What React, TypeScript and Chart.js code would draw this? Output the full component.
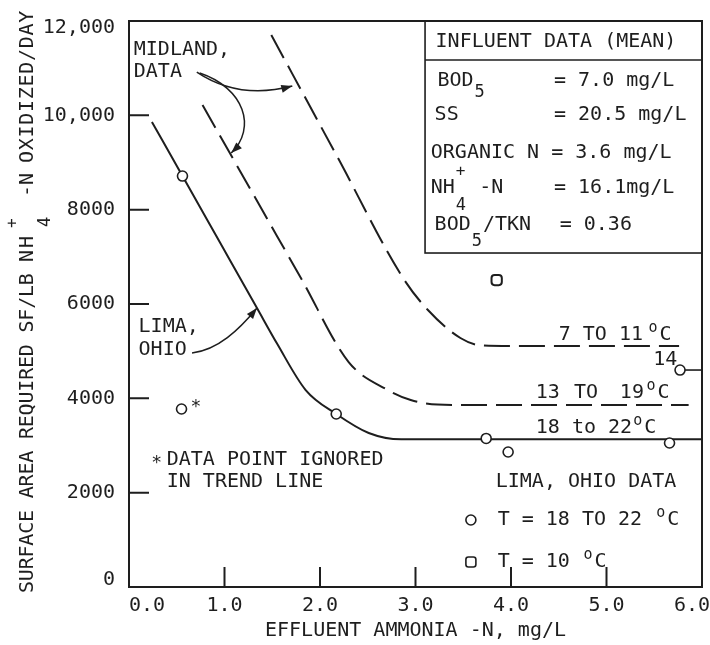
import React, { useEffect, useRef } from 'react';
import { Chart, registerables } from 'chart.js';

Chart.register(...registerables);

const FONT = '"DejaVu Sans Mono", monospace';
const INK = '#1e1e1e';

// Axis ticks
const xTickValues = [0, 1, 2, 3, 4, 5, 6];
const xTickLabels = ['0.0', '1.0', '2.0', '3.0', '4.0', '5.0', '6.0'];
const yTickValues = [0, 2000, 4000, 6000, 8000, 10000, 12000];
const yTickLabels = ['0', '2000', '4000', '6000', '8000', '10,000', '12,000'];

// Lima, Ohio trend line (18 to 22 °C)
const limaTrendX = [0.24, 0.56, 0.95, 1.34, 1.55, 1.85, 2.17, 2.51, 2.85, 6.0];
const limaTrendY = [9861, 8713, 7314, 5915, 5162, 4176, 3668, 3265, 3130, 3130];

// Midland trend line, 13 to 19 °C
const midlandWarmX = [0.77, 1.3, 1.8, 2.3, 2.71, 2.95, 3.23, 3.6, 5.86];
const midlandWarmY = [10218, 8330, 6551, 4770, 4176, 3964, 3870, 3858, 3858];

// Midland trend line, 7 to 11 °C
const midlandColdX = [1.49, 2.18, 2.87, 3.13, 3.47, 3.68, 4.0, 5.76];
const midlandColdY = [11702, 9126, 6551, 5872, 5279, 5125, 5110, 5110];

// Lima, Ohio observations
const limaWarmPtsX = [0.56, 2.17, 3.74, 3.97, 5.66, 5.77, 0.55];
const limaWarmPtsY = [8713, 3668, 3150, 2862, 3053, 4600, 3774];
const limaColdPtsX = [3.85];
const limaColdPtsY = [6508];

// Influent data table
const influentRows = [
  { label: 'BOD', sub: '5', rest: '', value: '= 7.0 mg/L' },
  { label: 'SS', sub: '', rest: '', value: '= 20.5 mg/L' },
  { label: 'ORGANIC N = 3.6 mg/L', sub: '', rest: '', value: '' },
  { label: 'NH', sub: '4', rest: ' -N', value: '= 16.1mg/L' },
  { label: 'BOD', sub: '5', rest: '/TKN', value: '= 0.36' },
];

const pts = (xs: number[], ys: number[]) => xs.map((x, i) => ({ x, y: ys[i] }));

const inkPlugin = {
  id: 'ink',
  beforeDraw(chart: any) {
    const { ctx } = chart;
    ctx.save();
    ctx.fillStyle = '#fff';
    ctx.fillRect(0, 0, chart.width, chart.height);
    ctx.restore();
  },
  afterDraw(chart: any) {
    const { ctx, chartArea: a } = chart;
    const sx = chart.scales.x;
    const sy = chart.scales.y;
    const X = (v: number) => sx.getPixelForValue(v);
    const Y = (v: number) => sy.getPixelForValue(v);
    const spacing = (v: string) => {
      if ('letterSpacing' in ctx) (ctx as any).letterSpacing = v;
    };

    const txt = (s: string, x: number, y: number, size = 20, align: CanvasTextAlign = 'left') => {
      ctx.font = `${size}px ${FONT}`;
      ctx.textAlign = align;
      ctx.textBaseline = 'alphabetic';
      ctx.fillText(s, x, y);
      return x + ctx.measureText(s).width;
    };
    const deg = (x: number, y: number) => {
      txt('o', x, y - 8, 15);
      txt('C', x + 11, y, 20);
    };
    const head = (fx: number, fy: number, tx: number, ty: number) => {
      const ang = Math.atan2(ty - fy, tx - fx);
      const L = 11;
      const W = 4;
      const c = Math.cos(ang);
      const s = Math.sin(ang);
      ctx.beginPath();
      ctx.moveTo(tx, ty);
      ctx.lineTo(tx - L * c + W * s, ty - L * s - W * c);
      ctx.lineTo(tx - L * c - W * s, ty - L * s + W * c);
      ctx.closePath();
      ctx.fill();
    };

    ctx.save();
    ctx.strokeStyle = INK;
    ctx.fillStyle = INK;

    // plot frame
    ctx.lineWidth = 2;
    ctx.strokeRect(a.left, a.top, a.right - a.left, a.bottom - a.top);

    // inward tick marks
    ctx.beginPath();
    yTickValues.forEach((v) => {
      if (v > 0 && v < 12000) {
        ctx.moveTo(a.left, Y(v));
        ctx.lineTo(a.left + 20, Y(v));
      }
    });
    xTickValues.forEach((v) => {
      if (v > 0 && v < 6) {
        ctx.moveTo(X(v), a.bottom);
        ctx.lineTo(X(v), a.bottom - 20);
      }
    });
    ctx.stroke();

    // tick labels
    xTickValues.forEach((v, i) => {
      ctx.font = `20px ${FONT}`;
      const w = ctx.measureText(xTickLabels[i]).width;
      let left = X(v) - w / 2;
      left = Math.max(left, a.left);
      left = Math.min(left, chart.width - w);
      txt(xTickLabels[i], left, a.bottom + 24);
    });
    yTickValues.forEach((v, i) => {
      ctx.font = `20px ${FONT}`;
      ctx.textAlign = 'right';
      ctx.textBaseline = 'middle';
      const y = Math.min(Math.max(Y(v), a.top + 7), a.bottom - 7);
      ctx.fillText(yTickLabels[i], a.left - 14, y);
    });

    // y-axis title with NH4+ notation
    ctx.save();
    ctx.translate(a.left - 96, a.bottom + 6);
    ctx.rotate(-Math.PI / 2);
    spacing('-0.2px');
    txt('SURFACE AREA REQUIRED SF/LB', 0, 0);
    spacing('2px');
    txt('NH', 331, 0);
    spacing('0px');
    txt('4', 366, 17, 17);
    txt('+', 365, -16, 16);
    txt('-N', 396, 0);
    spacing('0.7px');
    txt('OXIDIZED/DAY', 430, 0);
    spacing('0px');
    ctx.restore();

    // influent data box
    ctx.lineWidth = 1.6;
    const bx = X(3.1);
    ctx.strokeRect(bx, a.top, a.right - bx, Y(7081) - a.top);
    ctx.beginPath();
    ctx.moveTo(bx, Y(11172));
    ctx.lineTo(a.right, Y(11172));
    ctx.stroke();
    txt('INFLUENT DATA (MEAN)', X(3.21), Y(11448));
    const rowY = [10621, 9900, 9095, 8353, 7568];
    const rowX = [3.23, 3.2, 3.16, 3.16, 3.2];
    const eqX = [4.45, 4.45, 4.35, 4.45, 4.51];
    const subDrop = [11, 0, 0, 17, 16];
    influentRows.forEach((r, i) => {
      const by = Y(rowY[i]);
      let x = txt(r.label, X(rowX[i]), by);
      if (r.sub) {
        const subEnd = txt(r.sub, x + 1, by + subDrop[i], 17);
        if (r.label === 'NH') txt('+', x + 1, by - 17, 16);
        x = subEnd + 1;
      }
      if (r.rest) txt(r.rest, x, by);
      if (r.value) txt(r.value, X(eqX[i]), by);
    });

    // curve labels
    txt('MIDLAND,', X(0.05), Y(11278));
    txt('DATA', X(0.05), Y(10812));
    txt('LIMA,', X(0.1), Y(5406));
    txt('OHIO', X(0.1), Y(4918));

    txt('7 TO 11', X(4.5), Y(5236));
    deg(X(5.44), Y(5236));
    txt('14', X(5.49), Y(4706));
    txt('13', X(4.26), Y(4007));
    txt('TO', X(4.66), Y(4007));
    txt('19', X(5.14), Y(4007));
    deg(X(5.42), Y(4007));
    txt('18 to 22', X(4.26), Y(3265));
    deg(X(5.28), Y(3265));

    // note on the ignored point
    txt('*', X(0.7), Y(3774) + 3, 18, 'center');
    txt('*', X(0.29), Y(2586) + 3, 18, 'center');
    txt('DATA POINT IGNORED', X(0.395), Y(2586));
    txt('IN TREND LINE', X(0.395), Y(2120));

    // Lima data key
    txt('LIMA, OHIO DATA', X(3.84), Y(2120));
    txt('T = 18 TO 22', X(3.86), Y(1314));
    deg(X(5.52), Y(1314));
    txt('T = 10', X(3.86), Y(424));
    deg(X(4.76), Y(424));
    ctx.lineWidth = 1.6;
    ctx.fillStyle = '#fff';
    ctx.beginPath();
    ctx.arc(X(3.58), Y(1420), 5, 0, Math.PI * 2);
    ctx.fill();
    ctx.stroke();
    ctx.beginPath();
    ctx.roundRect(X(3.58) - 5, Y(530) - 5, 10, 10, 2.5);
    ctx.fill();
    ctx.stroke();
    ctx.fillStyle = INK;

    // leader from the 14 °C point to the axis
    ctx.beginPath();
    ctx.moveTo(X(5.77) + 5, Y(4600));
    ctx.lineTo(a.right, Y(4600));
    ctx.stroke();

    // pointer arrows
    ctx.lineWidth = 1.5;
    let s0 = [X(0.71), Y(10918)];
    let c0 = [X(1.15), Y(10324)];
    let e0 = [X(1.71), Y(10621)];
    ctx.beginPath();
    ctx.moveTo(s0[0], s0[1]);
    ctx.quadraticCurveTo(c0[0], c0[1], e0[0], e0[1]);
    ctx.stroke();
    head(c0[0], c0[1], e0[0], e0[1]);

    s0 = [X(0.74), Y(10897)];
    c0 = [X(1.21), Y(10579)];
    let c1 = [X(1.34), Y(9731)];
    e0 = [X(1.07), Y(9201)];
    ctx.beginPath();
    ctx.moveTo(s0[0], s0[1]);
    ctx.bezierCurveTo(c0[0], c0[1], c1[0], c1[1], e0[0], e0[1]);
    ctx.stroke();
    head(c1[0], c1[1], e0[0], e0[1]);

    s0 = [X(0.66), Y(4961)];
    c0 = [X(0.93), Y(5024)];
    c1 = [X(1.15), Y(5448)];
    e0 = [X(1.34), Y(5915)];
    ctx.beginPath();
    ctx.moveTo(s0[0], s0[1]);
    ctx.bezierCurveTo(c0[0], c0[1], c1[0], c1[1], e0[0], e0[1]);
    ctx.stroke();
    head(c1[0], c1[1], e0[0], e0[1]);

    ctx.restore();
  },
};

export default function App() {
  const ref = useRef<HTMLCanvasElement>(null);

  useEffect(() => {
    const canvas = ref.current;
    if (!canvas) return;
    Chart.defaults.font.family = FONT;
    const lineStyle = {
      type: 'line' as const,
      borderColor: INK,
      borderWidth: 2,
      pointRadius: 0,
      fill: false,
      cubicInterpolationMode: 'monotone' as const,
      order: 2,
    };
    const chart = new Chart(canvas, {
      type: 'line',
      data: {
        datasets: [
          { ...lineStyle, label: 'Lima, Ohio', data: pts(limaTrendX, limaTrendY) },
          { ...lineStyle, label: '13 to 19 °C', data: pts(midlandWarmX, midlandWarmY), borderDash: [26, 9] },
          { ...lineStyle, label: '7 to 11 °C', data: pts(midlandColdX, midlandColdY), borderDash: [26, 9] },
          {
            type: 'scatter' as const,
            label: 'T = 18 to 22 °C',
            data: pts(limaWarmPtsX, limaWarmPtsY),
            pointStyle: 'circle',
            pointRadius: 5,
            borderWidth: 1.6,
            borderColor: INK,
            backgroundColor: '#fff',
            order: 1,
          },
          {
            type: 'scatter' as const,
            label: 'T = 10 °C',
            data: pts(limaColdPtsX, limaColdPtsY),
            pointStyle: 'rectRounded',
            pointRadius: 6,
            borderWidth: 2,
            borderColor: INK,
            backgroundColor: '#fff',
            order: 1,
          },
        ],
      },
      options: {
        animation: false,
        responsive: false,
        maintainAspectRatio: false,
        layout: { padding: { top: 21, right: 4, left: 0, bottom: 0 } },
        plugins: { legend: { display: false }, tooltip: { enabled: false } },
        scales: {
          x: {
            type: 'linear',
            min: 0,
            max: 6,
            grid: { display: false, drawTicks: false },
            border: { display: false },
            ticks: { display: false, stepSize: 1 },
            title: {
              display: true,
              text: 'EFFLUENT AMMONIA -N, mg/L',
              color: INK,
              font: { family: FONT, size: 20 },
              padding: { top: 0, bottom: 2 },
            },
            afterFit: (s: any) => {
              s.height = 58;
              s.paddingLeft = 0;
              s.paddingRight = 0;
            },
          },
          y: {
            type: 'linear',
            min: 0,
            max: 12000,
            grid: { display: false, drawTicks: false },
            border: { display: false },
            ticks: { display: false, stepSize: 2000 },
            afterFit: (s: any) => {
              s.width = 129;
              s.paddingTop = 0;
              s.paddingBottom = 0;
            },
          },
        },
      },
      plugins: [inkPlugin],
    });
    return () => chart.destroy();
  }, []);

  return (
    <div style={{ position: 'fixed', left: 0, top: 0, width: 710, height: 645, background: '#fff' }}>
      <canvas ref={ref} width={710} height={645} style={{ display: 'block' }} />
    </div>
  );
}
